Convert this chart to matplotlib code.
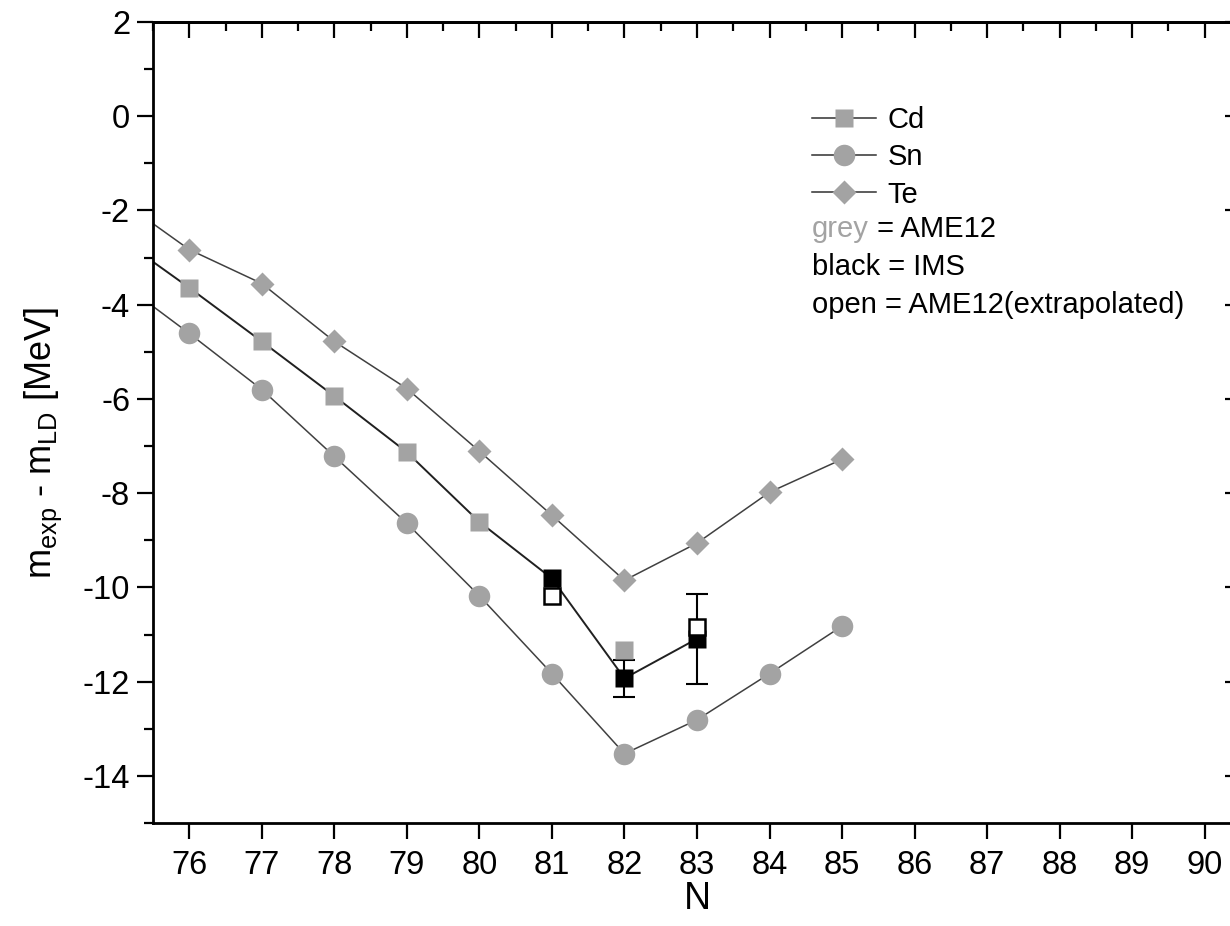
import matplotlib
matplotlib.use("Agg")
from matplotlib import pyplot as plt
from matplotlib.ticker import MultipleLocator
from matplotlib.lines import Line2D

plt.rcParams['font.family'] = ['Liberation Sans', 'DejaVu Sans']
plt.rcParams['mathtext.fontset'] = 'custom'
plt.rcParams['mathtext.rm'] = 'Liberation Sans'
plt.rcParams['mathtext.it'] = 'Liberation Sans:italic'
plt.rcParams['axes.unicode_minus'] = False

# neutron number and m_exp - m_LD [MeV]
N_all = [75, 76, 77, 78, 79, 80, 81, 82, 83, 84, 85]
te = [-1.73, -2.83, -3.55, -4.78, -5.78, -7.11, -8.47, -9.85, -9.06, -7.98, -7.28]
sn = [-3.46, -4.61, -5.80, -7.22, -8.64, -10.18, -11.83, -13.53, -12.81, -11.83, -10.82]

# Cd: AME12 (grey), IMS (black), AME12 extrapolated (open)
N_cd_line = [75, 76, 77, 78, 79, 80, 81, 82, 83]
cd_line = [-2.54, -3.64, -4.78, -5.94, -7.13, -8.61, -9.81, -11.93, -11.09]
N_cd_ame = [75, 76, 77, 78, 79, 80, 82]
cd_ame = [-2.54, -3.64, -4.78, -5.94, -7.13, -8.61, -11.32]
N_cd_extr = [81, 83]
cd_extr = [-10.18, -10.84]
N_cd_ims = [81, 82, 83]
cd_ims = [-9.81, -11.93, -11.09]
cd_ims_err = [0.0, 0.40, 0.95]

grey = '#a3a3a3'

fig = plt.figure(figsize=(12.3, 9.26), dpi=100)
ax = fig.add_axes([153/1230, 1-823/926, (1241-153)/1230, (823-22)/926])

ax.plot(N_all, te, '-', color='#404040', lw=1.1, zorder=1)
ax.plot(N_all, sn, '-', color='#404040', lw=1.1, zorder=1)
ax.plot(N_cd_line, cd_line, '-', color='#202020', lw=1.4, zorder=1)

# error bars of IMS (only where an error is given)
err_N = [n for n, e in zip(N_cd_ims, cd_ims_err) if e > 0]
err_v = [v for v, e in zip(cd_ims, cd_ims_err) if e > 0]
err_e = [e for e in cd_ims_err if e > 0]
ax.errorbar(err_N, err_v, yerr=err_e, fmt='none', ecolor='black',
            elinewidth=1.5, capsize=8, capthick=1.5, zorder=2)

ax.plot(N_all, te, 'D', color=grey, ms=12.5, mec='none', zorder=3)
ax.plot(N_all, sn, 'o', color=grey, ms=15.5, mec='none', zorder=3)
ax.plot(N_cd_ame, cd_ame, 's', color=grey, ms=13, mec='none', zorder=3)

# 81: open under black, 83: open over black
ax.plot(N_cd_extr[:1], cd_extr[:1], 's', mfc='white', mec='black', mew=1.8, ms=12, zorder=4)
ax.plot(N_cd_ims, cd_ims, 's', color='black', ms=13, mec='none', zorder=5)
ax.plot(N_cd_extr[1:], cd_extr[1:], 's', mfc='white', mec='black', mew=1.8, ms=12, zorder=6)

ax.set_xlim(75.5, 90.5)
ax.set_ylim(-15, 2)
ax.set_xticks(range(76, 91))
ax.yaxis.set_major_locator(MultipleLocator(2))
ax.yaxis.set_minor_locator(MultipleLocator(1))

for s in ax.spines.values():
    s.set_linewidth(2)
ax.tick_params(axis='both', which='major', direction='out', length=11.5, width=1.6,
               labelsize=23.5)
ax.tick_params(axis='x', pad=8)
ax.tick_params(axis='y', pad=5)
ax.tick_params(axis='y', which='minor', direction='out', length=6.5, width=1.6)

# inner ticks on top and right
top = ax.secondary_xaxis('top')
top.set_xticks(range(76, 91))
top.xaxis.set_minor_locator(MultipleLocator(0.5))
top.tick_params(which='major', direction='in', length=11.5, width=1.6, labeltop=False)
top.tick_params(which='minor', direction='in', length=6.5, width=1.6)
top.spines['top'].set_linewidth(2)
right = ax.secondary_yaxis('right')
right.yaxis.set_major_locator(MultipleLocator(2))
right.yaxis.set_minor_locator(MultipleLocator(1))
right.tick_params(which='major', direction='in', length=11.5, width=1.6, labelright=False)
right.tick_params(which='minor', direction='in', length=6.5, width=1.6)

ax.set_xlabel('N', fontsize=27, labelpad=0)
ax.set_ylabel(r'm$_{\mathrm{exp}}$ - m$_{\mathrm{LD}}$ [MeV]', fontsize=26)
ax.yaxis.set_label_coords((64-153)/1088, (823-443)/801)

handles = [
    Line2D([], [], color='#303030', lw=1.1, marker='s', ms=12.5, mfc=grey, mec='none'),
    Line2D([], [], color='#303030', lw=1.1, marker='o', ms=15.5, mfc=grey, mec='none'),
    Line2D([], [], color='#303030', lw=1.1, marker='D', ms=12.5, mfc=grey, mec='none'),
]
ax.legend(handles, ['Cd', 'Sn', 'Te'], loc='upper left',
          bbox_to_anchor=((812-153)/1088, (823-106)/801), frameon=False,
          fontsize=21, handlelength=2.2, handletextpad=0.38, labelspacing=0.32,
          borderpad=0, borderaxespad=0, numpoints=1)

tx = (812-153)/1088
t1 = ax.text(tx, (823-229)/801, 'grey', color=grey, fontsize=21, va='center',
             transform=ax.transAxes)
ax.annotate(' = AME12', xy=(1, 0.5), xycoords=t1, va='center', fontsize=21)
ax.text(tx, (823-267)/801, 'black = IMS', fontsize=21, va='center', transform=ax.transAxes)
ax.text(tx, (823-305)/801, 'open = AME12(extrapolated)', fontsize=21, va='center',
        transform=ax.transAxes)

fig.savefig('out.png', dpi=100)
